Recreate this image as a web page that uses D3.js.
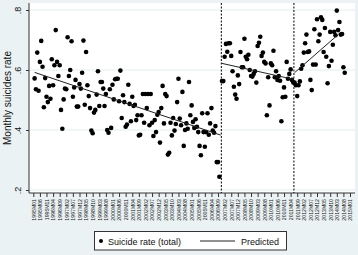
<!DOCTYPE html>
<html>
<head>
<meta charset="utf-8">
<script src="https://cdn.jsdelivr.net/npm/d3@7"></script>
<style>
  body { margin: 0; background: #eaf2f3; }
  text { font-family: "Liberation Sans", Arial, sans-serif; fill: #111; }
</style>
</head>
<body>
<div id="chart"></div>
<script>
// monthly suicide rate, three periods split by the dashed lines
const seg1Start = 1
const seg1 = [0.572,0.536,0.658,0.531,0.627,0.697,0.611,0.476,0.573,0.511,0.493,0.547,0.504,0.636,0.549,0.616,0.733,0.627,0.58,0.616,0.467,0.404,0.502,0.538,0.536,0.709,0.58,0.6,0.696,0.511,0.542,0.567,0.478,0.478,0.553,0.538,0.591,0.698,0.484,0.66,0.549,0.513,0.473,0.398,0.389,0.458,0.467,0.518,0.596,0.48,0.56,0.56,0.538,0.48,0.52,0.4,0.391,0.536,0.407,0.551,0.502,0.569,0.571,0.571,0.496,0.598,0.44,0.516,0.493,0.411,0.418,0.551,0.487,0.429,0.511,0.48,0.484,0.433,0.449,0.382,0.384,0.449,0.52,0.424,0.52,0.473,0.52,0.416,0.52,0.424,0.38,0.433,0.393,0.451,0.46,0.358,0.473,0.547,0.422,0.52,0.513,0.318,0.324,0.424,0.382,0.44,0.398,0.42,0.493,0.571,0.438,0.416,0.527,0.347,0.4,0.422,0.404,0.56,0.449,0.482,0.427,0.407,0.436,0.411,0.393,0.347,0.316,0.456,0.393,0.344,0.393,0.456,0.384,0.422,0.473,0.398,0.391,0.413,0.293,0.293,0.244]
const seg2Start = 143
const seg2 = [0.563,0.563,0.644,0.687,0.661,0.689,0.689,0.647,0.596,0.544,0.518,0.504,0.582,0.553,0.66,0.609,0.609,0.704,0.644,0.636,0.651,0.6,0.58,0.578,0.587,0.596,0.558,0.68,0.691,0.711,0.647,0.658,0.627,0.622,0.449,0.576,0.482,0.622,0.616,0.664,0.576,0.596,0.567,0.58,0.564,0.429,0.509,0.542,0.511,0.627,0.571,0.587,0.602,0.567,0.558]
const seg3Start = 198
const seg3 = [0.558,0.549,0.513,0.549,0.562,0.604,0.616,0.658,0.689,0.718,0.66,0.662,0.567,0.533,0.618,0.736,0.618,0.769,0.696,0.718,0.776,0.767,0.66,0.74,0.644,0.556,0.613,0.727,0.631,0.684,0.727,0.716,0.798,0.733,0.76,0.718,0.72,0.609,0.591]

// fitted lines: [startMonth, startValue, endMonth, endValue]
const predicted = [
  [1, 0.592, 142, 0.383],
  [143, 0.622, 197, 0.569],
  [198, 0.591, 231, 0.718]
]
const breaks = [142.5, 197.5]

const yTicks = [0.2, 0.4, 0.6, 0.8]
const yTickLabels = [".2", ".4", ".6", ".8"]
const xTickMonths = d3.range(0, 241, 5)
const xTickLabels = ["1995M01","1995M06","1995M11","1996M04","1996M09","1997M02","1997M07","1997M12","1998M05","1998M10","1999M03","1999M08","2000M01","2000M06","2000M11","2001M04","2001M09","2002M02","2002M07","2002M12","2003M05","2003M10","2004M03","2004M08","2005M01","2005M06","2005M11","2006M04","2006M09","2007M02","2007M07","2007M12","2008M05","2008M10","2009M03","2009M08","2010M01","2010M06","2010M11","2011M04","2011M09","2012M02","2012M07","2012M12","2013M05","2013M10","2014M03","2014M08","2015M01"]

const width = 358, height = 255
const plot = { left: 29, right: 355, top: 3, bottom: 193 }

const svg = d3.select("#chart").append("svg")
  .attr("width", width)
  .attr("height", height)

svg.append("rect").attr("width", width).attr("height", height).attr("fill", "#eaf2f3")
svg.append("rect")
  .attr("x", plot.left).attr("y", plot.top)
  .attr("width", plot.right - plot.left).attr("height", plot.bottom - plot.top)
  .attr("fill", "#fff")

const x = d3.scaleLinear().domain([0, 240]).range([33.3, 350])
const y = d3.scaleLinear().domain([0.2, 0.8]).range([190, 10])

// gridlines
svg.append("g").selectAll("line")
  .data(yTicks)
  .enter().append("line")
  .attr("x1", plot.left).attr("x2", plot.right)
  .attr("y1", d => y(d)).attr("y2", d => y(d))
  .attr("stroke", "#e3eef0").attr("stroke-width", 1)

// y axis
const yAxis = svg.append("g")
  .attr("transform", `translate(${plot.left},0)`)
  .call(d3.axisLeft(y).tickValues(yTicks).tickSize(3).tickFormat((d, i) => yTickLabels[i]))
yAxis.select(".domain").attr("d", `M0,${plot.top}V${plot.bottom}`).attr("stroke", "#333")
yAxis.selectAll(".tick line").attr("stroke", "#333")
yAxis.selectAll(".tick text")
  .attr("font-size", 9)
  .attr("transform", "rotate(-90)")
  .attr("x", 0).attr("y", -8).attr("dy", 0)
  .attr("text-anchor", "middle")
  .style("font-family", "Liberation Sans, Arial, sans-serif")

svg.append("text")
  .attr("transform", `translate(11,${(plot.top + plot.bottom) / 2}) rotate(-90)`)
  .attr("text-anchor", "middle")
  .attr("font-size", 10)
  .text("Monthly suicides rate")

// x axis
const xAxis = svg.append("g")
  .attr("transform", `translate(0,${plot.bottom})`)
  .call(d3.axisBottom(x).tickValues(xTickMonths).tickSize(4).tickFormat((d, i) => xTickLabels[i]))
xAxis.select(".domain").attr("d", `M${plot.left},0H${plot.right}`).attr("stroke", "#333")
xAxis.selectAll(".tick line").attr("stroke", "#333")
xAxis.selectAll(".tick text")
  .attr("font-size", 5.2)
  .attr("transform", "rotate(-90)")
  .attr("x", -6).attr("y", 0).attr("dy", "0.35em")
  .attr("text-anchor", "end")
  .attr("fill", "#333")
  .style("font-family", "Liberation Sans, Arial, sans-serif")

// break lines
svg.append("g").selectAll("line")
  .data(breaks)
  .enter().append("line")
  .attr("x1", d => x(d)).attr("x2", d => x(d))
  .attr("y1", plot.top).attr("y2", plot.bottom)
  .attr("stroke", "#000").attr("stroke-width", 1)
  .attr("stroke-dasharray", "2,1.5")

// points
const points = []
;[[seg1Start, seg1], [seg2Start, seg2], [seg3Start, seg3]].forEach(([s, vals]) => {
  vals.forEach((v, i) => points.push({ month: s + i, value: v }))
})
svg.append("g").selectAll("circle")
  .data(points)
  .enter().append("circle")
  .attr("cx", d => x(d.month))
  .attr("cy", d => y(d.value))
  .attr("r", 2.3)
  .attr("fill", "#000")

// predicted
svg.append("g").selectAll("line")
  .data(predicted)
  .enter().append("line")
  .attr("x1", d => x(d[0])).attr("y1", d => y(d[1]))
  .attr("x2", d => x(d[2])).attr("y2", d => y(d[3]))
  .attr("stroke", "#222").attr("stroke-width", 1)

// legend
const lg = svg.append("g")
lg.append("rect")
  .attr("x", 94.5).attr("y", 231.5).attr("width", 192).attr("height", 18.5)
  .attr("fill", "#fff").attr("stroke", "#333").attr("stroke-width", 1)
lg.append("circle").attr("cx", 101).attr("cy", 241).attr("r", 2).attr("fill", "#000")
lg.append("text").attr("x", 108).attr("y", 244.5).attr("font-size", 9).text("Suicide rate (total)")
lg.append("line").attr("x1", 200).attr("x2", 235).attr("y1", 241).attr("y2", 241)
  .attr("stroke", "#222").attr("stroke-width", 1)
lg.append("text").attr("x", 241).attr("y", 244.5).attr("font-size", 9).text("Predicted")
</script>
</body>
</html>
